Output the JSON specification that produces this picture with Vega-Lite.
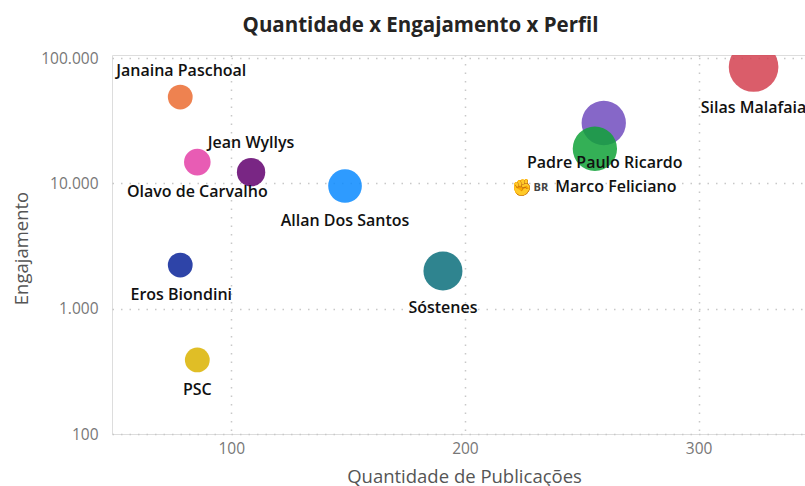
{
"$schema":"https://vega.github.io/schema/vega-lite/v6.json",
"width":693,"height":379,
"autosize":{"type":"none"},
"padding":{"left":112,"top":55,"right":0,"bottom":52},
"background":"white",
"title":{"text":"Quantidade x Engajamento x Perfil","anchor":"middle","dx":-38,"offset":15,"fontSize":20.5,"font":"Open Sans","fontWeight":700,"color":"#252423"},
"data":{"values":[
{"perfil":"Silas Malafaia","publicacoes":323.5,"engajamento":84900,"seguidores":784},
{"perfil":"Padre Paulo Ricardo","publicacoes":259.4,"engajamento":30340,"seguidores":625},
{"perfil":"Marco Feliciano","publicacoes":255.6,"engajamento":18900,"seguidores":625},
{"perfil":"Janaina Paschoal","publicacoes":78.2,"engajamento":48900,"seguidores":196},
{"perfil":"Olavo de Carvalho","publicacoes":85.5,"engajamento":14800,"seguidores":225},
{"perfil":"Jean Wyllys","publicacoes":108.5,"engajamento":12300,"seguidores":256},
{"perfil":"Allan Dos Santos","publicacoes":148.7,"engajamento":9530,"seguidores":361},
{"perfil":"Sóstenes","publicacoes":190.6,"engajamento":2000,"seguidores":484},
{"perfil":"Eros Biondini","publicacoes":78.2,"engajamento":2230,"seguidores":196},
{"perfil":"PSC","publicacoes":85.5,"engajamento":390,"seguidores":196}
]},
"encoding":{
"x":{"field":"publicacoes","type":"quantitative","scale":{"domain":[49,345.5],"nice":false,"zero":false},
"axis":{"values":[100,200,300],"title":"Quantidade de Publicações","grid":true,"gridDash":[1.5,7],"gridColor":"#c8c8c8","gridWidth":1.5,"domain":false,"ticks":false,"labelFont":"Open Sans","labelFontSize":15.5,"labelColor":"#777777","labelPadding":7,"titleFont":"Open Sans","titleFontSize":18.5,"titleFontWeight":"normal","titleColor":"#555555","titleY":33,"titleX":352}},
"y":{"field":"engajamento","type":"quantitative","scale":{"type":"log","domain":[100,105900],"nice":false},
"axis":{"values":[100,1000,10000,100000],"title":"Engajamento","grid":true,"gridDash":[1.5,7],"gridColor":"#c8c8c8","gridWidth":1.5,"domain":false,"ticks":false,"labelExpr":"replace(format(datum.value,','),/,/g,'.')","labelFont":"Open Sans","labelFontSize":15.5,"labelColor":"#777777","labelPadding":14,"titleFont":"Open Sans","titleFontSize":18.5,"titleFontWeight":"normal","titleColor":"#555555","titleX":-81,"titleY":193}}
},
"layer":[
{"mark":{"type":"circle","opacity":0.85,"clip":true},
"encoding":{
"size":{"field":"seguidores","type":"quantitative","scale":{"domain":[0,800],"range":[0,2513]},"legend":null},
"color":{"field":"perfil","type":"nominal","legend":null,"scale":{"domain":["Silas Malafaia","Padre Paulo Ricardo","Marco Feliciano","Janaina Paschoal","Olavo de Carvalho","Jean Wyllys","Allan Dos Santos","Sóstenes","Eros Biondini","PSC"],"range":["#D34150","#714CBE","#10A238","#EB6C31","#E43FA7","#62006F","#0989FF","#0A6F7B","#092399","#DAB300"]}}}},
{"transform":[{"filter":"datum.perfil=='Silas Malafaia'"}],"mark":{"type":"text","dy":41,"dx":0,"font":"Open Sans","fontWeight":600,"fontSize":16,"color":"#111111"},"encoding":{"text":{"field":"perfil"}}},
{"transform":[{"filter":"datum.perfil=='Padre Paulo Ricardo'"}],"mark":{"type":"text","dy":40,"dx":1,"font":"Open Sans","fontWeight":600,"fontSize":16,"color":"#111111"},"encoding":{"text":{"field":"perfil"}}},
{"transform":[{"filter":"datum.perfil=='Marco Feliciano'"}],"mark":{"type":"text","dy":38,"dx":21,"font":"Open Sans","fontWeight":600,"fontSize":16,"color":"#111111"},"encoding":{"text":{"field":"perfil"}}},
{"transform":[{"filter":"datum.perfil=='Marco Feliciano'"}],"mark":{"type":"text","dy":39,"dx":-54,"font":"Open Sans","fontWeight":700,"fontSize":11,"color":"#444444","text":"BR"},"encoding":{}},
{"transform":[{"filter":"datum.perfil=='Marco Feliciano'"}],"mark":{"type":"text","dy":39,"dx":-73,"font":"DejaVu Sans","fontSize":16,"color":"#E8A91E","stroke":"#555555","strokeWidth":0.5,"text":"✊"},"encoding":{}},
{"transform":[{"filter":"datum.perfil=='Janaina Paschoal'"}],"mark":{"type":"text","dy":-26,"dx":1,"font":"Open Sans","fontWeight":600,"fontSize":16,"color":"#111111"},"encoding":{"text":{"field":"perfil"}}},
{"transform":[{"filter":"datum.perfil=='Olavo de Carvalho'"}],"mark":{"type":"text","dy":30,"font":"Open Sans","fontWeight":600,"fontSize":16,"color":"#111111"},"encoding":{"text":{"field":"perfil"}}},
{"transform":[{"filter":"datum.perfil=='Jean Wyllys'"}],"mark":{"type":"text","dy":-29,"font":"Open Sans","fontWeight":600,"fontSize":16,"color":"#111111"},"encoding":{"text":{"field":"perfil"}}},
{"transform":[{"filter":"datum.perfil=='Allan Dos Santos'"}],"mark":{"type":"text","dy":35,"font":"Open Sans","fontWeight":600,"fontSize":16,"color":"#111111"},"encoding":{"text":{"field":"perfil"}}},
{"transform":[{"filter":"datum.perfil=='Sóstenes'"}],"mark":{"type":"text","dy":37,"font":"Open Sans","fontWeight":600,"fontSize":16,"color":"#111111"},"encoding":{"text":{"field":"perfil"}}},
{"transform":[{"filter":"datum.perfil=='Eros Biondini'"}],"mark":{"type":"text","dy":30,"dx":1,"font":"Open Sans","fontWeight":600,"fontSize":16,"color":"#111111"},"encoding":{"text":{"field":"perfil"}}},
{"transform":[{"filter":"datum.perfil=='PSC'"}],"mark":{"type":"text","dy":30,"font":"Open Sans","fontWeight":600,"fontSize":16,"color":"#111111"},"encoding":{"text":{"field":"perfil"}}}
]
}
